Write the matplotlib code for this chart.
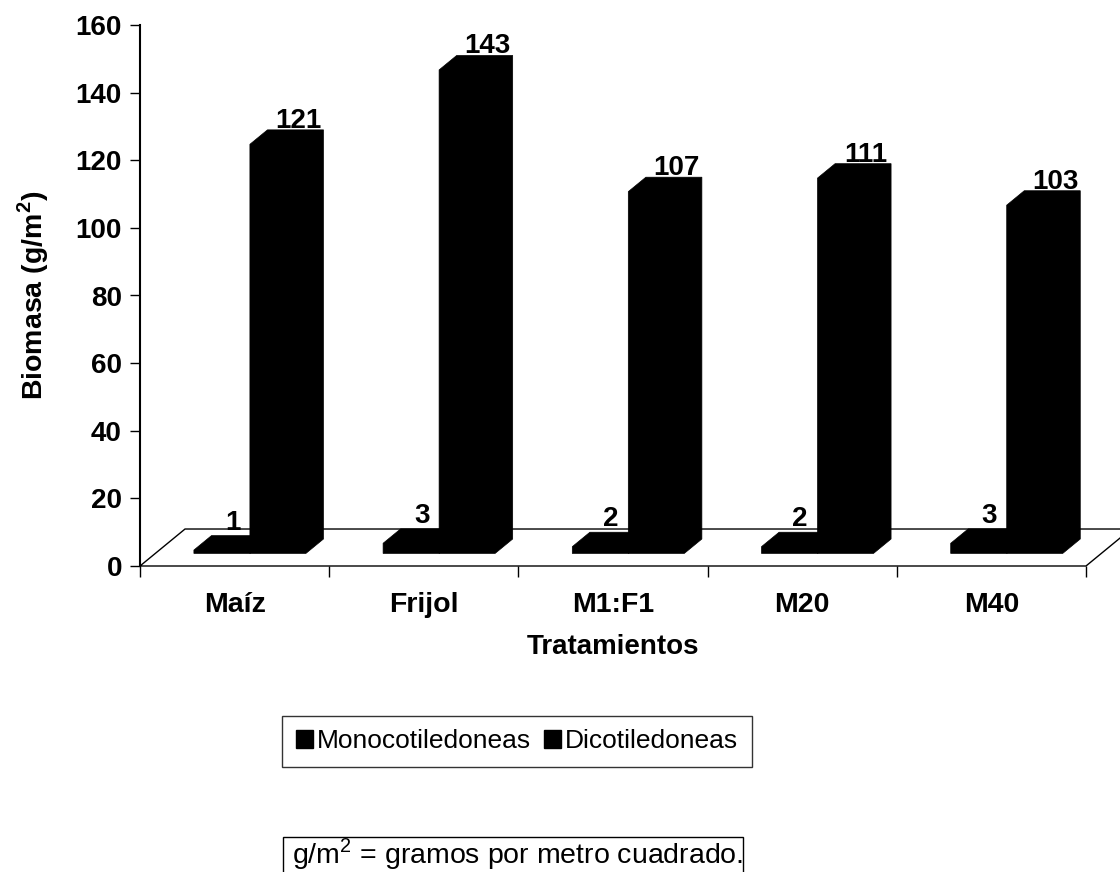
import numpy as np
import matplotlib.pyplot as plt
from matplotlib.patches import Patch, Rectangle

plt.rcParams['font.family'] = ['Liberation Sans', 'DejaVu Sans']
plt.rcParams['mathtext.fontset'] = 'custom'
plt.rcParams['mathtext.rm'] = 'Liberation Sans'
plt.rcParams['mathtext.bf'] = 'Liberation Sans:bold'

tratamientos = ['Maíz', 'Frijol', 'M1:F1', 'M20', 'M40']
mono = [1, 3, 2, 2, 3]
dico = [121, 143, 107, 111, 103]

# pseudo-3D geometry (category units on x, biomass units on y)
floor_dx, floor_dy = 0.238, 10.94   # depth of the floor
front_frac, depth_frac = 0.34, 0.39  # bar set-back and bar depth as part of floor depth
bar_w = 0.296

sx, sy = floor_dx * front_frac, floor_dy * front_frac
ddx, ddy = floor_dx * depth_frac, floor_dy * depth_frac

fig = plt.figure(figsize=(11.2, 8.72), dpi=100)
ax = fig.add_axes([140 / 1120, 1 - 566 / 872, 946 / 1120, 541 / 872])
ax.set_xlim(0, 5)
ax.set_ylim(0, 160)

# floor
n = len(tratamientos)
fx = [0, n, n + floor_dx, floor_dx, 0]
fy = [0, 0, floor_dy, floor_dy, 0]
ax.fill(fx, fy, facecolor='white', edgecolor='none', zorder=1)
ax.plot(fx, fy, color='black', lw=1, zorder=2, clip_on=False, solid_joinstyle='miter')


def box(x0, v):
    # outline of a solid column: front face, top and right side in one piece
    xl, xr = x0 + sx, x0 + sx + bar_w
    yb, yt = sy, sy + v
    ax.fill([xl, xl, xl + ddx, xr + ddx, xr + ddx, xr],
            [yb, yt, yt + ddy, yt + ddy, yb + ddy, yb],
            facecolor='black', edgecolor='black', lw=0.5, zorder=3)
    return xl, xr, yt


x = np.arange(n)
for i in range(n):
    x_m = x[i] + 0.5 - bar_w
    xl, xr, yt = box(x_m, mono[i])
    ax.text((xl + xr) / 2 + ddx / 2 + 0.01, yt + ddy + 1.8, str(mono[i]),
            ha='center', va='baseline', fontsize=20, fontweight='bold', zorder=4)
    x_d = x[i] + 0.5
    xl, xr, yt = box(x_d, dico[i])
    ax.text((xl + xr) / 2 + ddx + 0.015, yt + ddy + 0.6, str(dico[i]),
            ha='center', va='baseline', fontsize=20, fontweight='bold', zorder=4)

for s in ['top', 'right', 'bottom']:
    ax.spines[s].set_visible(False)
ax.spines['left'].set_linewidth(1.5)

ax.set_yticks(np.arange(0, 161, 20))
ax.tick_params(axis='y', direction='out', length=7, width=1, labelsize=20, pad=6)
for lab in ax.get_yticklabels():
    lab.set_fontweight('bold')

ax.set_xticks(np.arange(0, n + 1))
ax.set_xticklabels([])
ax.set_xticks(x + 0.5, minor=True)
ax.set_xticklabels(tratamientos, minor=True, fontsize=20.5, fontweight='bold')
ax.tick_params(axis='x', which='major', direction='out', length=8, width=1)
ax.tick_params(axis='x', which='minor', length=0, pad=19)

ax.set_xlabel('Tratamientos', fontsize=20, fontweight='bold', labelpad=11)
ax.set_ylabel(r'Biomasa (g/m$^\mathbf{2}$)', fontsize=20.5, fontweight='bold', labelpad=18)

handles = [Patch(facecolor='black', edgecolor='black', label='Monocotiledoneas'),
           Patch(facecolor='black', edgecolor='black', label='Dicotiledoneas')]
leg = fig.legend(handles=handles, loc='center', bbox_to_anchor=(517 / 1120, 1 - 741.5 / 872),
                 ncol=2, fontsize=19, frameon=True, fancybox=False, shadow=False,
                 handlelength=0.65, handleheight=0.65, handletextpad=0.15,
                 columnspacing=0.5, borderpad=0.5, borderaxespad=0)
leg.get_frame().set_edgecolor('black')
leg.get_frame().set_linewidth(1)

# unit note at the foot of the figure
fig.add_artist(Rectangle((283 / 1120, -0.02), 460 / 1120, 0.02 + 35 / 872,
                         transform=fig.transFigure, facecolor='white',
                         edgecolor='black', lw=1))
fig.text(292 / 1120, 1 - 863 / 872, r'g/m$^2$ = gramos por metro cuadrado.',
         fontsize=20.5, ha='left', va='baseline')

fig.savefig('out.png', dpi=100)
